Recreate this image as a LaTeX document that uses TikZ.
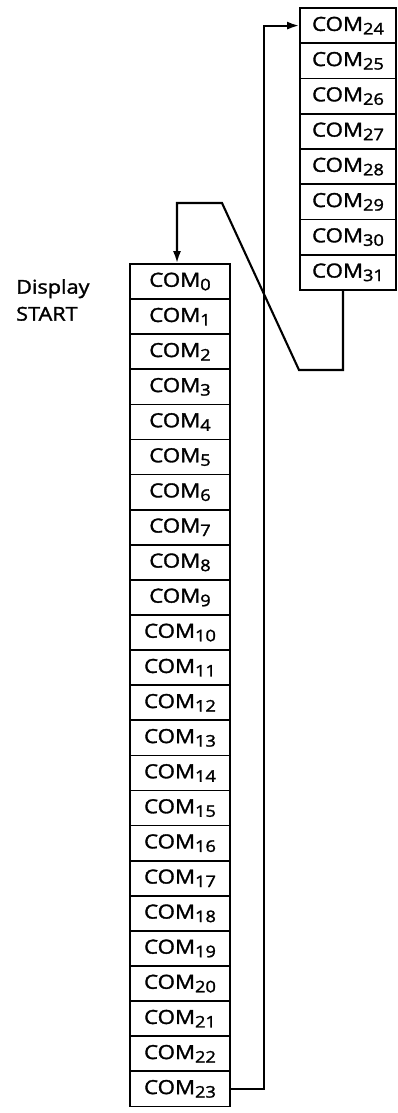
\documentclass[tikz,border=0pt]{standalone}
\usepackage{fontspec}
\setmainfont{Open Sans}[FakeStretch=1.14,FakeBold=1.6]
\usetikzlibrary{arrows.meta,positioning}

\newcommand{\comsub}[1]{\raisebox{-3.5pt}{\fontsize{16}{16}\selectfont #1}}

\begin{document}
\begin{tikzpicture}[x=1pt,y=-1pt,>={Latex[length=12pt,width=8pt]},
  combox/.style={draw,line width=1.7pt,minimum width=100pt,minimum height=35.1pt,
    inner sep=0pt,font=\fontsize{19.5}{19.5}\selectfont},
  link/.style={line width=2.1pt}]

  \useasboundingbox (0,0) rectangle (398,1113);

  % label
  \node[anchor=west,align=left,inner sep=0pt,font=\fontsize{19}{27}\selectfont]
    (start) at (16,300) {Display\\START};

  % left column COM0 ... COM23
  \foreach \i in {0,...,23}
    \node[combox] (c\i) at ({180},{264+35.1*\i+17.55}) {COM\comsub{\i}};

  % right column COM24 ... COM31
  \foreach \i in {24,...,31}
    \node[combox,minimum width=96pt,minimum height=35.25pt]
      (c\i) at ({348},{8+35.25*(\i-24)+17.6}) {COM\comsub{\i}};

  \coordinate (riseX) at (264,0);
  \coordinate (dropB) at (343,370);
  \coordinate (kinkB) at (299,370);
  \coordinate (topB)  at (222,203);
  \coordinate (turnB) at (177,203);

  \draw[link,->] (c23.east) -- (c23.east -| riseX) |- (c24.west);
  \draw[link,->] (c31.south -| dropB) -- (dropB) -- (kinkB) -- (topB)
    -- (turnB) -- (turnB |- c0.north);
\end{tikzpicture}
\end{document}
